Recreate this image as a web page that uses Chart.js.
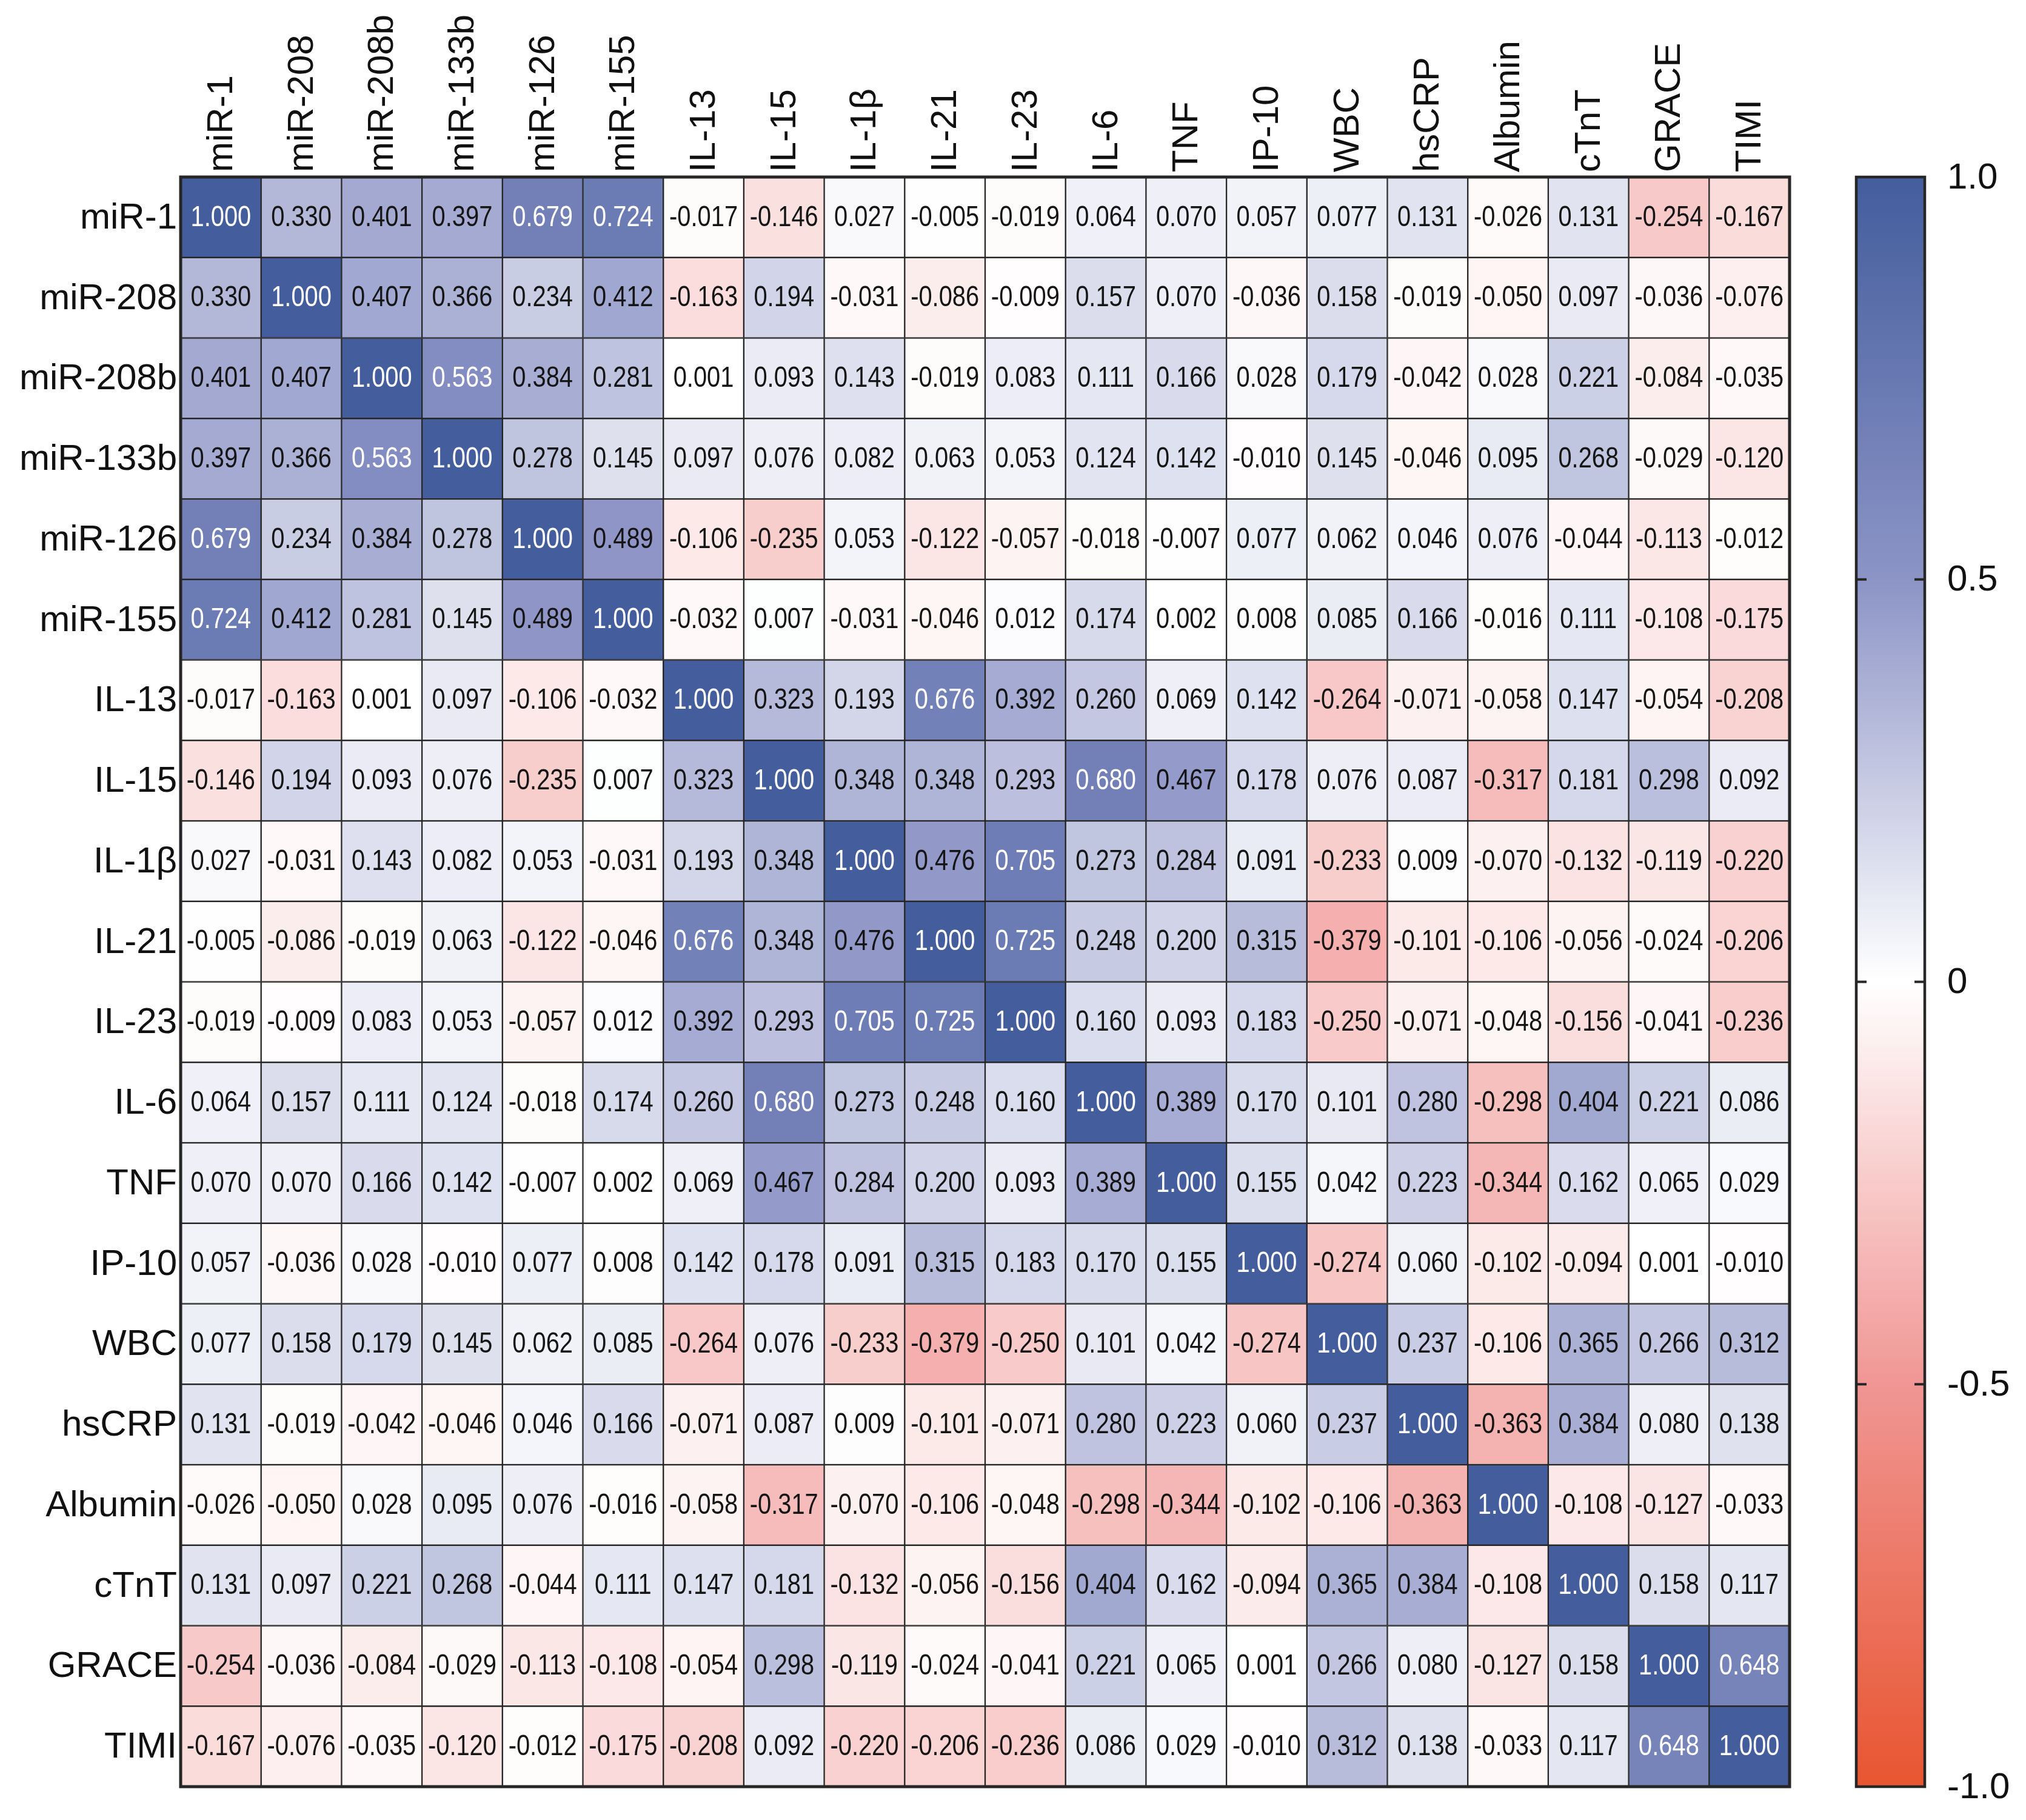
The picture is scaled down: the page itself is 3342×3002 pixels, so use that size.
<!DOCTYPE html>
<html>
<head>
<meta charset="utf-8">
<script src="https://cdn.jsdelivr.net/npm/chart.js@4.4.1/dist/chart.umd.min.js"></script>
<style>
  html, body { margin: 0; padding: 0; background: #fff; }
  #wrap { position: relative; width: 3342px; height: 3002px; }
</style>
</head>
<body>
<div id="wrap"><canvas id="heat" width="3342" height="3002"></canvas></div>
<script>
// Variables (rows and columns of the matrix)
const variables = ['miR-1', 'miR-208', 'miR-208b', 'miR-133b', 'miR-126', 'miR-155',
  'IL-13', 'IL-15', 'IL-1β', 'IL-21', 'IL-23', 'IL-6', 'TNF', 'IP-10',
  'WBC', 'hsCRP', 'Albumin', 'cTnT', 'GRACE', 'TIMI'];

// Correlation coefficients, one row per variable
const corr = [
  [1.000, 0.330, 0.401, 0.397, 0.679, 0.724, -0.017, -0.146, 0.027, -0.005, -0.019, 0.064, 0.070, 0.057, 0.077, 0.131, -0.026, 0.131, -0.254, -0.167],
  [0.330, 1.000, 0.407, 0.366, 0.234, 0.412, -0.163, 0.194, -0.031, -0.086, -0.009, 0.157, 0.070, -0.036, 0.158, -0.019, -0.050, 0.097, -0.036, -0.076],
  [0.401, 0.407, 1.000, 0.563, 0.384, 0.281, 0.001, 0.093, 0.143, -0.019, 0.083, 0.111, 0.166, 0.028, 0.179, -0.042, 0.028, 0.221, -0.084, -0.035],
  [0.397, 0.366, 0.563, 1.000, 0.278, 0.145, 0.097, 0.076, 0.082, 0.063, 0.053, 0.124, 0.142, -0.010, 0.145, -0.046, 0.095, 0.268, -0.029, -0.120],
  [0.679, 0.234, 0.384, 0.278, 1.000, 0.489, -0.106, -0.235, 0.053, -0.122, -0.057, -0.018, -0.007, 0.077, 0.062, 0.046, 0.076, -0.044, -0.113, -0.012],
  [0.724, 0.412, 0.281, 0.145, 0.489, 1.000, -0.032, 0.007, -0.031, -0.046, 0.012, 0.174, 0.002, 0.008, 0.085, 0.166, -0.016, 0.111, -0.108, -0.175],
  [-0.017, -0.163, 0.001, 0.097, -0.106, -0.032, 1.000, 0.323, 0.193, 0.676, 0.392, 0.260, 0.069, 0.142, -0.264, -0.071, -0.058, 0.147, -0.054, -0.208],
  [-0.146, 0.194, 0.093, 0.076, -0.235, 0.007, 0.323, 1.000, 0.348, 0.348, 0.293, 0.680, 0.467, 0.178, 0.076, 0.087, -0.317, 0.181, 0.298, 0.092],
  [0.027, -0.031, 0.143, 0.082, 0.053, -0.031, 0.193, 0.348, 1.000, 0.476, 0.705, 0.273, 0.284, 0.091, -0.233, 0.009, -0.070, -0.132, -0.119, -0.220],
  [-0.005, -0.086, -0.019, 0.063, -0.122, -0.046, 0.676, 0.348, 0.476, 1.000, 0.725, 0.248, 0.200, 0.315, -0.379, -0.101, -0.106, -0.056, -0.024, -0.206],
  [-0.019, -0.009, 0.083, 0.053, -0.057, 0.012, 0.392, 0.293, 0.705, 0.725, 1.000, 0.160, 0.093, 0.183, -0.250, -0.071, -0.048, -0.156, -0.041, -0.236],
  [0.064, 0.157, 0.111, 0.124, -0.018, 0.174, 0.260, 0.680, 0.273, 0.248, 0.160, 1.000, 0.389, 0.170, 0.101, 0.280, -0.298, 0.404, 0.221, 0.086],
  [0.070, 0.070, 0.166, 0.142, -0.007, 0.002, 0.069, 0.467, 0.284, 0.200, 0.093, 0.389, 1.000, 0.155, 0.042, 0.223, -0.344, 0.162, 0.065, 0.029],
  [0.057, -0.036, 0.028, -0.010, 0.077, 0.008, 0.142, 0.178, 0.091, 0.315, 0.183, 0.170, 0.155, 1.000, -0.274, 0.060, -0.102, -0.094, 0.001, -0.010],
  [0.077, 0.158, 0.179, 0.145, 0.062, 0.085, -0.264, 0.076, -0.233, -0.379, -0.250, 0.101, 0.042, -0.274, 1.000, 0.237, -0.106, 0.365, 0.266, 0.312],
  [0.131, -0.019, -0.042, -0.046, 0.046, 0.166, -0.071, 0.087, 0.009, -0.101, -0.071, 0.280, 0.223, 0.060, 0.237, 1.000, -0.363, 0.384, 0.080, 0.138],
  [-0.026, -0.050, 0.028, 0.095, 0.076, -0.016, -0.058, -0.317, -0.070, -0.106, -0.048, -0.298, -0.344, -0.102, -0.106, -0.363, 1.000, -0.108, -0.127, -0.033],
  [0.131, 0.097, 0.221, 0.268, -0.044, 0.111, 0.147, 0.181, -0.132, -0.056, -0.156, 0.404, 0.162, -0.094, 0.365, 0.384, -0.108, 1.000, 0.158, 0.117],
  [-0.254, -0.036, -0.084, -0.029, -0.113, -0.108, -0.054, 0.298, -0.119, -0.024, -0.041, 0.221, 0.065, 0.001, 0.266, 0.080, -0.127, 0.158, 1.000, 0.648],
  [-0.167, -0.076, -0.035, -0.120, -0.012, -0.175, -0.208, 0.092, -0.220, -0.206, -0.236, 0.086, 0.029, -0.010, 0.312, 0.138, -0.033, 0.117, 0.648, 1.000]
];

// Colour bar ticks
const barTicks = [1, 0.5, 0, -0.5, -1];
const barTickLabels = ['1.0', '0.5', '0', '-0.5', '-1.0'];

// diverging palette: red (-1) -> white (0) -> blue (+1)
const colorStops = [
  [-1, [232, 85, 48]],
  [-0.5, [240, 150, 148]],
  [0, [255, 255, 255]],
  [0.5, [140, 148, 198]],
  [1, [67, 93, 157]]
];

function colorFor(v) {
  for (let i = 0; i < colorStops.length - 1; i++) {
    const [v0, c0] = colorStops[i];
    const [v1, c1] = colorStops[i + 1];
    if (v >= v0 && v <= v1) {
      const t = (v - v0) / (v1 - v0);
      const c = c0.map((a, k) => Math.round(a + (c1[k] - a) * t));
      return `rgb(${c[0]},${c[1]},${c[2]})`;
    }
  }
  return '#fff';
}

const FONT = '"Liberation Sans", Arial, Helvetica, sans-serif';
const LINE = '#262626';

// labels, cell values, frame and colour bar
const heatDecor = {
  id: 'heatDecor',
  afterDatasetsDraw(chart) {
    const ctx = chart.ctx;
    const area = chart.chartArea;
    const xs = chart.scales.x;
    const ys = chart.scales.y;
    const cb = chart.scales.cb;

    // cell values
    ctx.save();
    ctx.font = `48px ${FONT}`;
    ctx.textAlign = 'center';
    ctx.textBaseline = 'middle';
    corr.forEach((row, r) => {
      const meta = chart.getDatasetMeta(r);
      row.forEach((v, c) => {
        const el = meta.data[c];
        const cy = (el.y + el.base) / 2;
        ctx.fillStyle = v > 0.5 ? '#ffffff' : '#151515';
        ctx.save();
        ctx.translate(el.x, cy + 1);
        ctx.scale(0.83, 1);
        ctx.fillText(v.toFixed(3), 0, 0);
        ctx.restore();
      });
    });
    ctx.restore();

    // outer frame
    ctx.save();
    ctx.strokeStyle = LINE;
    ctx.lineWidth = 5;
    ctx.strokeRect(area.left, area.top, area.right - area.left, area.bottom - area.top);
    ctx.restore();

    // row labels
    ctx.save();
    ctx.font = `60px ${FONT}`;
    ctx.fillStyle = '#111';
    ctx.textAlign = 'right';
    ctx.textBaseline = 'middle';
    variables.forEach((lab, r) => {
      ctx.fillText(lab, area.left - 6, ys.getPixelForValue(r + 0.5) + 2);
    });
    // column labels, rotated
    ctx.textAlign = 'left';
    variables.forEach((lab, c) => {
      ctx.save();
      ctx.translate(xs.getPixelForValue(c) + 2, area.top - 8);
      ctx.rotate(-Math.PI / 2);
      ctx.fillText(lab, 0, 0);
      ctx.restore();
    });
    ctx.restore();

    // colour bar
    const bx0 = 3062, bx1 = 3175;
    const top = cb.getPixelForValue(1);
    const bottom = cb.getPixelForValue(-1);
    const grad = ctx.createLinearGradient(0, top, 0, bottom);
    colorStops.forEach(([v, c]) => {
      grad.addColorStop((1 - v) / 2, `rgb(${c[0]},${c[1]},${c[2]})`);
    });
    ctx.save();
    ctx.fillStyle = grad;
    ctx.fillRect(bx0, top, bx1 - bx0, bottom - top);
    ctx.strokeStyle = LINE;
    ctx.lineWidth = 4.5;
    ctx.strokeRect(bx0, top, bx1 - bx0, bottom - top);
    ctx.lineWidth = 4;
    ctx.font = `60px ${FONT}`;
    ctx.fillStyle = '#111';
    ctx.textAlign = 'left';
    ctx.textBaseline = 'middle';
    barTicks.forEach((t, i) => {
      const py = cb.getPixelForValue(t);
      if (t !== 1 && t !== -1) {
        ctx.beginPath();
        ctx.moveTo(bx0, py); ctx.lineTo(bx0 + 17, py);
        ctx.moveTo(bx1 - 17, py); ctx.lineTo(bx1, py);
        ctx.stroke();
      }
      ctx.fillText(barTickLabels[i], 3212, py + 2);
    });
    ctx.restore();
  }
};

// one floating-bar dataset per row; each bar spans [row, row + 1]
const datasets = corr.map((row, r) => ({
  label: variables[r],
  data: row.map(() => [r, r + 1]),
  backgroundColor: row.map(colorFor),
  borderColor: LINE,
  borderWidth: 1.5,
  borderSkipped: false,
  categoryPercentage: 1,
  barPercentage: 1,
  grouped: false
}));

new Chart(document.getElementById('heat').getContext('2d'), {
  type: 'bar',
  data: { labels: variables, datasets: datasets },
  options: {
    responsive: false,
    animation: false,
    layout: { padding: { left: 298, top: 292, right: 390, bottom: 55 } },
    plugins: { legend: { display: false }, tooltip: { enabled: false } },
    scales: {
      x: { type: 'category', display: false, offset: true },
      y: { type: 'linear', min: 0, max: 20, reverse: true, display: false },
      cb: { type: 'linear', axis: 'y', min: -1, max: 1, display: false }
    }
  },
  plugins: [heatDecor]
});
</script>
</body>
</html>
